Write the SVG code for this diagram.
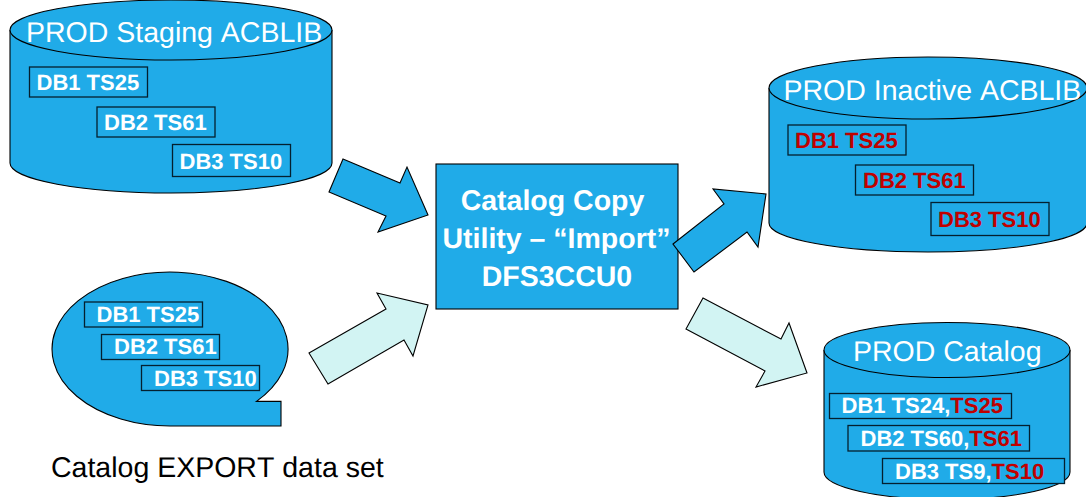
<svg xmlns="http://www.w3.org/2000/svg" width="1086" height="497" viewBox="0 0 1086 497">
<style>
.s{fill:#20abe8;stroke:#000;stroke-width:1.1}
.p{fill:#d2f4f3;stroke:#000;stroke-width:1.1}
.b{fill:#20abe8;stroke:#04202f;stroke-width:1.3}
text{font-family:"Liberation Sans",Arial,sans-serif;text-rendering:geometricPrecision;font-kerning:none}
.t{font-size:28.5px;fill:#fff}
.k{font-size:22px;font-weight:700;fill:#fff}
.r{fill:#c00000}
.c{font-size:28.5px;font-weight:700;fill:#fff;text-anchor:middle}
</style>
<rect width="1086" height="497" fill="#fff"/>
<g id="staging">
<path class="s" d="M10 30V163A161 30 0 0 0 332 163V30"/>
<ellipse class="s" cx="171" cy="30" rx="161" ry="30"/>
<text class="t" x="26" y="42">PROD Staging ACBLIB</text>
<rect class="b" x="29.500" y="67" width="118" height="30"/><text class="k" x="36.500" y="90">DB1 TS25</text>
<rect class="b" x="97" y="107" width="118" height="30"/><text class="k" x="104" y="129.500">DB2 TS61</text>
<rect class="b" x="172.500" y="144.500" width="118" height="32"/><text class="k" x="179.500" y="168.500">DB3 TS10</text>
</g>
<g id="inactive">
<path class="s" d="M769 88V223A159 29 0 0 0 1087 223V88"/>
<ellipse class="s" cx="928" cy="88" rx="159" ry="31"/>
<text class="t" x="783.500" y="100">PROD Inactive ACBLIB</text>
<rect class="b" x="788" y="125" width="118" height="30"/><text class="k r" x="795" y="148">DB1 TS25</text>
<rect class="b" x="855.500" y="165" width="118" height="30"/><text class="k r" x="863" y="187.500">DB2 TS61</text>
<rect class="b" x="931" y="202.500" width="118" height="33"/><text class="k r" x="938" y="226.500">DB3 TS10</text>
</g>
<g id="catalog">
<path class="s" d="M824 350V472A123 27.500 0 0 0 1070 472V350"/>
<ellipse class="s" cx="947" cy="350" rx="123" ry="27.500"/>
<text class="t" x="853" y="361">PROD Catalog</text>
<rect class="b" x="829.500" y="393.500" width="182" height="25"/><text class="k" x="841.500" y="413">DB1 TS24,<tspan class="r">TS25</tspan></text>
<rect class="b" x="848" y="425.500" width="181.500" height="25.500"/><text class="k" x="860.500" y="446">DB2 TS60,<tspan class="r">TS61</tspan></text>
<rect class="b" x="882.500" y="458.500" width="182" height="25"/><text class="k" x="895" y="479">DB3 TS9,<tspan class="r">TS10</tspan></text>
</g>
<g id="export">
<path class="s" d="M256.500 401.400H281V426H170A118 77 0 1 1 256.500 401.400Z"/>
<rect class="b" x="84.500" y="302" width="118" height="25"/><text class="k" x="96.500" y="322">DB1 TS25</text>
<rect class="b" x="101.500" y="334.500" width="118" height="25"/><text class="k" x="114" y="354">DB2 TS61</text>
<rect class="b" x="141.500" y="365.500" width="118" height="25"/><text class="k" x="154" y="385.500">DB3 TS10</text>
<text x="51" y="477" font-size="28.500" fill="#000">Catalog EXPORT data set</text>
</g>
<g id="utility">
<rect class="s" x="436" y="164" width="242" height="145"/>
<text class="c" x="552.500" y="209.500">Catalog Copy</text>
<text class="c" x="556.500" y="247.500">Utility – “Import”</text>
<text class="c" x="557" y="285.500">DFS3CCU0</text>
</g>
<g id="connectors">
<polygon class="s" points="343,159 400,183 407,167 428,215 378,232 386,216 329,192"/>
<polygon class="p" points="309,353 386,309 377,293 428,305 413,356 404,340 328,384"/>
<polygon class="s" points="673,244 724,204 713,189 766,194 758,247 747,232 694,272"/>
<polygon class="p" points="703,298 781,339 789,323 807,373 756,387 765,371 686,329"/>
</g>
</svg>
